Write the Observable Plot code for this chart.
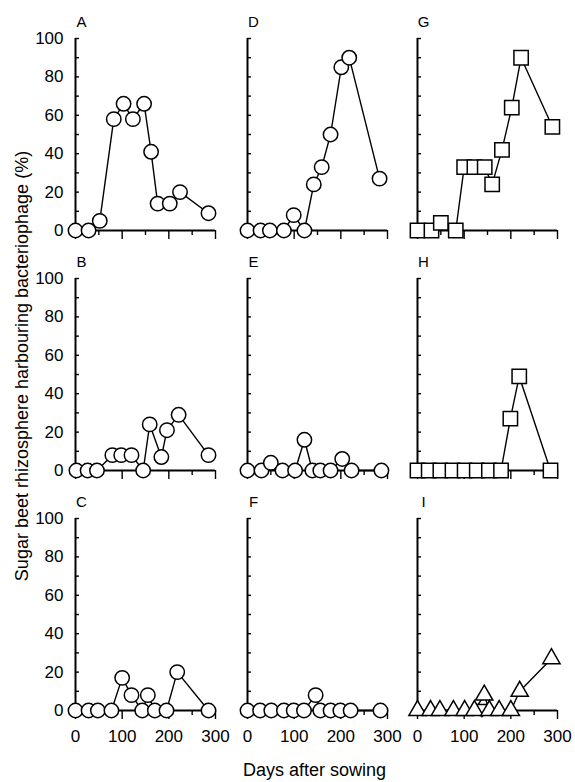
<!DOCTYPE html>
<html>
<head>
<meta charset="utf-8">
<script src="https://cdn.jsdelivr.net/npm/d3@7"></script>
<script src="https://cdn.jsdelivr.net/npm/@observablehq/plot@0.6"></script>
<style>
  html, body { margin: 0; padding: 0; background: #fff; }
  #chart { position: relative; width: 575px; height: 782px; overflow: hidden;
           font-family: "Liberation Sans", Arial, Helvetica, sans-serif; color: #000; }
  .panel { position: absolute; }
  .panel svg { overflow: visible; }
  #ytitle { position: absolute; left: 22.3px; top: 366px; white-space: nowrap;
            font-size: 18px; line-height: 18px;
            transform: translate(-50%, -50%) rotate(-90deg); }
  #xtitle { position: absolute; left: 314.5px; top: 761px; white-space: nowrap;
            font-size: 18px; line-height: 18px; transform: translateX(-50%); }
</style>
</head>
<body>
<div id="chart">
  <div id="ytitle">Sugar beet rhizosphere harbouring bacteriophage (%)</div>
  <div id="xtitle">Days after sowing</div>
</div>
<script>
// ---------- data ----------
const xDomain = [0, 300];
const yDomain = [0, 100];
const xMajorTicks = [0, 100, 200, 300];
const xMinorTicks = [50, 150, 250];
const xTickLabels = [0, 100, 200, 300];
const yTicks = [0, 10, 20, 30, 40, 50, 60, 70, 80, 90, 100];
const yTickLabels = [0, 20, 40, 60, 80, 100];

const panelLabels = ["A", "B", "C", "D", "E", "F", "G", "H", "I"];
const yTitle = "Sugar beet rhizosphere harbouring bacteriophage (%)";
const xTitle = "Days after sowing";

const daysA = [0, 28, 52, 82, 103, 123, 147, 162, 176, 202, 224, 285];
const valuesA = [0, 0, 5, 58, 66, 58, 66, 41, 14, 14, 20, 9];
const daysB = [2, 26, 46, 79, 98, 120, 145, 159, 184, 196, 221, 285];
const valuesB = [0, 0, 0, 8, 8, 8, 0, 24, 7, 21, 29, 8];
const daysC = [0, 28, 48, 77, 100, 120, 143, 155, 170, 195, 218, 285];
const valuesC = [0, 0, 0, 0, 17, 8, 0, 8, 0, 0, 20, 0];
const daysD = [0, 28, 48, 78, 99, 122, 142, 159, 178, 201, 218, 283];
const valuesD = [0, 0, 0, 0, 8, 0, 24, 33, 50, 85, 90, 27];
const daysE = [0, 30, 50, 75, 102, 122, 139, 156, 178, 203, 223, 287];
const valuesE = [0, 0, 4, 0, 0, 16, 0, 0, 0, 6, 0, 0];
const daysF = [0, 27, 51, 78, 99, 121, 146, 156, 178, 199, 221, 285];
const valuesF = [0, 0, 0, 0, 0, 0, 8, 0, 0, 0, 0, 0];
const daysG = [0, 30, 50, 82, 100, 122, 144, 160, 181, 202, 222, 289];
const valuesG = [0, 0, 4, 0, 33, 33, 33, 24, 42, 64, 90, 54];
const daysH = [0, 24, 49, 75, 101, 127, 153, 179, 199, 218, 285];
const valuesH = [0, 0, 0, 0, 0, 0, 0, 0, 27, 49, 0];
const daysI = [0, 28, 48, 77, 101, 122, 143, 154, 175, 200, 219, 287];
const valuesI = [0, 0, 0, 0, 0, 0, 8, 0, 0, 0, 10, 27];
const daysIinv = [138];
const valuesIinv = [1];

const panelDays = [daysA, daysB, daysC, daysD, daysE, daysF, daysG, daysH, daysI];
const panelValues = [valuesA, valuesB, valuesC, valuesD, valuesE, valuesF, valuesG, valuesH, valuesI];
const panelSymbols = ["circle", "circle", "circle", "circle", "circle", "circle", "square", "square", "triangle"];

// ---------- layout ----------
const W = 140, H = 192;
const ML = 45, MR = 18, MT = 25, MB = 45;
const colX = [75, 246.5, 417];
const rowTop = [38, 278, 518];
const symbolR = {circle: 7.2, square: 8.1, triangle: 6.4};

document.getElementById("ytitle").textContent = yTitle;
document.getElementById("xtitle").textContent = xTitle;
const chart = document.getElementById("chart");

panelLabels.forEach((label, i) => {
  const col = Math.floor(i / 3), row = i % 3;
  const symbol = panelSymbols[i];
  const data = panelDays[i].map((day, j) => ({day, value: panelValues[i][j]}));
  const marks = [
    Plot.axisY({anchor: "left", ticks: yTicks, tickSize: 4, dx: 4, fill: "none", label: null, strokeWidth: 1.4}),
    Plot.axisX({anchor: "bottom", ticks: xMajorTicks, tickSize: 9, fill: "none", label: null, strokeWidth: 1.4}),
    Plot.axisX({anchor: "bottom", ticks: xMinorTicks, tickSize: 5, fill: "none", label: null, strokeWidth: 1.4}),
    Plot.ruleX([xDomain[0]], {stroke: "black", strokeWidth: 2}),
    Plot.ruleY([yDomain[0]], {stroke: "black", strokeWidth: 2}),
    Plot.text([label], {frameAnchor: "top-left", text: d => d, dx: 6, dy: -16,
                        textAnchor: "middle", lineAnchor: "middle", fontSize: 15})
  ];
  if (col === 0) marks.push(Plot.axisY({anchor: "left", ticks: yTickLabels, tickSize: 0, tickPadding: 12, label: null, fontSize: 17}));
  if (row === 2) marks.push(Plot.axisX({anchor: "bottom", ticks: xTickLabels, tickSize: 0, tickPadding: 19, label: null, fontSize: 17}));
  marks.push(Plot.line(data, {x: "day", y: "value", stroke: "black", strokeWidth: 1.4}));
  if (label === "I") {
    const inv = daysIinv.map((day, j) => ({day, value: valuesIinv[j]}));
    marks.push(Plot.dot(inv, {x: "day", y: "value", symbol: "triangle", r: symbolR.triangle * 0.8, rotate: 180,
                              fill: "white", stroke: "black", strokeWidth: 1.5}));
  }
  marks.push(Plot.dot(data, {x: "day", y: "value", symbol, r: symbolR[symbol],
                             fill: "white", stroke: "black", strokeWidth: 1.5}));
  const svg = Plot.plot({
    width: ML + W + MR, height: MT + H + MB,
    marginLeft: ML, marginRight: MR, marginTop: MT, marginBottom: MB,
    x: {domain: xDomain},
    y: {domain: yDomain},
    style: {fontFamily: '"Liberation Sans", Arial, Helvetica, sans-serif', fontSize: "17px",
            color: "black", background: "transparent", overflow: "visible"},
    marks
  });
  const div = document.createElement("div");
  div.className = "panel";
  div.style.left = (colX[col] - ML) + "px";
  div.style.top = (rowTop[row] - MT) + "px";
  div.appendChild(svg);
  chart.appendChild(div);
});
</script>
</body>
</html>
